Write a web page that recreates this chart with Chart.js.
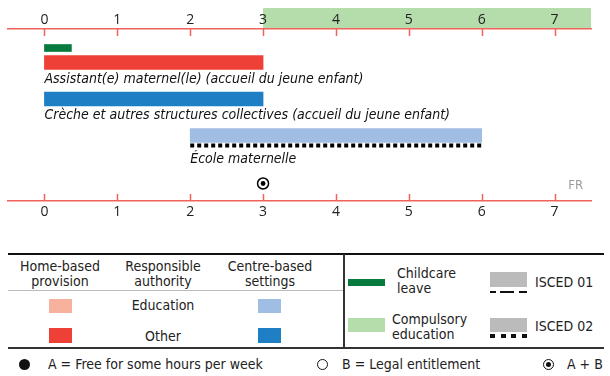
<!DOCTYPE html>
<html>
<head>
<meta charset="utf-8">
<script src="https://cdn.jsdelivr.net/npm/chart.js@4.4.1/dist/chart.umd.min.js"></script>
<style>
  body { margin: 0; background: #fff; width: 610px; height: 376px; position: relative; overflow: hidden; font-family: "DejaVu Sans Condensed", "Liberation Sans Narrow", sans-serif; color: #222; }
  #wrap { position: absolute; left: 0; top: 0; width: 610px; height: 236px; }
  .t { position: absolute; font-size: 14px; line-height: 15px; white-space: nowrap; }
  .c { text-align: center; transform: translateX(-50%); }
  .box { position: absolute; box-sizing: border-box; }
  .hl { position: absolute; height: 0; }
</style>
</head>
<body>
<div id="wrap"><canvas id="chart"></canvas></div>
<div id="legend"></div>

<script>
// ages on the axis (years)
const ageTicks = [0, 1, 2, 3, 4, 5, 6, 7];
const ageMin = -0.5;
const ageMax = 7.5;
const compulsoryFrom = 3;

// provision ranges [from, to] in years
const childcareLeave = [0, 0.37];
const homeBased = [0, 3];
const centreBased = [0, 3];
const ecoleMaternelle = [2, 6];
const entitlementAge = 3; // A + B

const rowLabels = [
  'Assistant(e) maternel(le) (accueil du jeune enfant)',
  'Crèche et autres structures collectives (accueil du jeune enfant)',
  'École maternelle'
];
const countryCode = 'FR';

// vertical layout of the rows (px below top axis)
const rowY = { leave: 19, home: 33.5, homeLabel: 50, centre: 70, centreLabel: 86, school: 106.5, schoolLine: 116.5, schoolLabel: 130, marker: 154.5 };

const axisRed = '#f0625a';

const decorPlugin = {
  id: 'decor',
  beforeDraw(chart) {
    const ctx = chart.ctx;
    const x = chart.scales.x;
    const top = chart.scales.xTop;
    // compulsory education band behind top tick labels
    ctx.save();
    ctx.fillStyle = '#b5dcab';
    const x0 = x.getPixelForValue(compulsoryFrom);
    ctx.fillRect(x0, top.top, chart.chartArea.right - x0, top.bottom - top.top);
    ctx.restore();
  },
  afterDraw(chart) {
    const ctx = chart.ctx;
    const x = chart.scales.x;
    const y = chart.scales.y;
    const area = chart.chartArea;
    ctx.save();
    // inner tick marks on both axes
    ctx.strokeStyle = axisRed;
    ctx.lineWidth = 1.5;
    ageTicks.forEach(v => {
      const px = Math.round(x.getPixelForValue(v)) + 0.5;
      ctx.beginPath();
      ctx.moveTo(px, area.top);
      ctx.lineTo(px, area.top + 7);
      ctx.moveTo(px, area.bottom);
      ctx.lineTo(px, area.bottom - 7);
      ctx.stroke();
    });
    // row labels under the bars
    ctx.fillStyle = '#111';
    ctx.font = 'italic 14px "DejaVu Sans Condensed", "Liberation Sans Narrow", sans-serif';
    ctx.textBaseline = 'middle';
    ctx.fillText(rowLabels[0], x.getPixelForValue(homeBased[0]), y.getPixelForValue(rowY.homeLabel));
    ctx.fillText(rowLabels[1], x.getPixelForValue(centreBased[0]), y.getPixelForValue(rowY.centreLabel));
    ctx.fillText(rowLabels[2], x.getPixelForValue(ecoleMaternelle[0]), y.getPixelForValue(rowY.schoolLabel));
    // country code
    ctx.fillStyle = '#9a9a9a';
    ctx.font = '13px "DejaVu Sans Condensed", sans-serif';
    ctx.textAlign = 'right';
    ctx.fillText(countryCode, area.right - 8, area.bottom - 15);
    ctx.restore();
  }
};

const barDefaults = { type: 'bar', indexAxis: 'y', grouped: false, stack: 'all', borderWidth: 0, xAxisID: 'x', yAxisID: 'y' };

new Chart(document.getElementById('chart'), {
  data: {
    datasets: [
      Object.assign({}, barDefaults, { label: 'Childcare leave', data: [{ x: childcareLeave, y: rowY.leave }], backgroundColor: '#087a3d', barThickness: 7 }),
      Object.assign({}, barDefaults, { label: 'Home-based, other', data: [{ x: homeBased, y: rowY.home }], backgroundColor: '#ee4036', barThickness: 14 }),
      Object.assign({}, barDefaults, { label: 'Centre-based, other', data: [{ x: centreBased, y: rowY.centre }], backgroundColor: '#1f7fc5', barThickness: 14 }),
      Object.assign({}, barDefaults, { label: 'Centre-based, education', data: [{ x: ecoleMaternelle, y: rowY.school }], backgroundColor: '#a0bde4', barThickness: 14 }),
      { type: 'line', label: 'ISCED 02', data: [{ x: ecoleMaternelle[0], y: rowY.schoolLine }, { x: ecoleMaternelle[1], y: rowY.schoolLine }],
        borderColor: '#000', borderWidth: 4, borderDash: [4, 3], borderCapStyle: 'butt', pointRadius: 0, xAxisID: 'x', yAxisID: 'y' },
      { type: 'scatter', label: 'A + B dot', data: [{ x: entitlementAge, y: rowY.marker }], pointRadius: 2.4, borderWidth: 0,
        backgroundColor: '#000', xAxisID: 'x', yAxisID: 'y' },
      { type: 'scatter', label: 'A + B ring', data: [{ x: entitlementAge, y: rowY.marker }], pointRadius: 5.5, borderWidth: 1.5,
        borderColor: '#000', backgroundColor: '#fff', xAxisID: 'x', yAxisID: 'y' }
    ]
  },
  options: {
    responsive: true,
    maintainAspectRatio: false,
    animation: false,
    layout: { padding: { top: 8, left: 8, right: 19, bottom: 0 } },
    plugins: { legend: { display: false }, tooltip: { enabled: false } },
    scales: {
      x: {
        type: 'linear', position: 'bottom', min: ageMin, max: ageMax, offset: false,
        afterBuildTicks: s => { s.ticks = ageTicks.map(v => ({ value: v })); },
        afterFit: s => { s.height = 35; },
        grid: { display: false, drawTicks: false },
        border: { display: true, color: axisRed, width: 1.5 },
        ticks: { padding: 3, color: '#222', font: { family: 'Open Sans', size: 14 } }
      },
      xTop: {
        type: 'linear', position: 'top', min: ageMin, max: ageMax, offset: false,
        afterBuildTicks: s => { s.ticks = ageTicks.map(v => ({ value: v })); },
        afterFit: s => { s.height = 21; },
        grid: { display: false, drawTicks: false },
        border: { display: true, color: axisRed, width: 1.5 },
        ticks: { padding: 1, color: '#222', font: { family: 'Open Sans', size: 14 } }
      },
      y: { type: 'linear', display: false, reverse: true, offset: false, grace: 0, min: 0, max: 172 }
    }
  },
  plugins: [decorPlugin]
});

// legend panel
const legend = document.getElementById('legend');
function add(html) { legend.insertAdjacentHTML('beforeend', html); }
function line(x1, x2, y, w, col) { add(`<div class="hl" style="left:${x1}px;width:${x2 - x1}px;top:${y}px;border-top:${w}px solid ${col}"></div>`); }
function box(x, y, w, h, col) { add(`<div class="box" style="left:${x}px;top:${y}px;width:${w}px;height:${h}px;background:${col}"></div>`); }
function text(x, y, s, center) { add(`<div class="t${center ? ' c' : ''}" style="left:${x}px;top:${y}px">${s}</div>`); }

line(8, 604, 253, 2, '#111');
line(8, 344, 290, 1, '#bbb');
line(8, 604, 347, 2, '#333');
add('<div class="box" style="left:343px;top:254px;width:2px;height:93px;background:#333"></div>');

text(60, 259, 'Home-based<br>provision', true);
text(163, 259, 'Responsible<br>authority', true);
text(270, 259, 'Centre-based<br>settings', true);
text(163, 298, 'Education', true);
text(163, 329, 'Other', true);
box(49, 299, 23, 14, '#f6b29c');
box(49, 328, 23, 15, '#ee4036');
box(258, 299, 23, 14, '#a0bde4');
box(258, 328, 23, 15, '#1f7fc5');

box(348, 279, 37, 7, '#087a3d');
text(397, 266, 'Childcare<br>leave');
box(348, 318, 37, 14, '#b5dcab');
text(392, 312, 'Compulsory<br>education');

box(490, 272, 37, 15, '#bbb');
add('<div class="box" style="left:490px;top:291px;width:37px;height:2px;background:linear-gradient(to right,#111 0 6px,transparent 6px 10px,#111 10px 24px,transparent 24px 29px,#111 29px 37px)"></div>');
text(535, 275, 'ISCED 01');
box(490, 318, 37, 14, '#bbb');
add('<div class="box" style="left:490px;top:334px;width:37px;height:4px;background:repeating-linear-gradient(to right,#111 0 5px,transparent 5px 10.7px)"></div>');
text(535, 319, 'ISCED 02');

add('<div class="box" style="left:19px;top:359px;width:11px;height:11px;border-radius:50%;background:#111"></div>');
text(48, 357, 'A = Free for some hours per week');
add('<div class="box" style="left:317px;top:359px;width:11px;height:11px;border-radius:50%;border:1.8px solid #111"></div>');
text(342, 357, 'B = Legal entitlement');
add('<div class="box" style="left:543px;top:359px;width:11px;height:11px;border-radius:50%;border:1.5px solid #111"></div>');
add('<div class="box" style="left:546px;top:362px;width:5px;height:5px;border-radius:50%;background:#111"></div>');
text(567, 357, 'A + B');
</script>
</body>
</html>
